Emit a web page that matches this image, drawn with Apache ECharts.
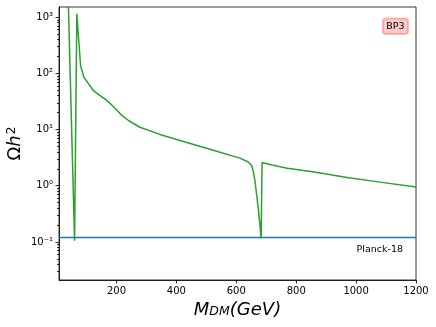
<!DOCTYPE html>
<html>
<head>
<meta charset="utf-8">
<script src="https://cdn.jsdelivr.net/npm/echarts@6/dist/echarts.min.js"></script>
<style>
html, body { margin: 0; padding: 0; background: #fff; }
#chart { width: 436px; height: 327px; }
</style>
</head>
<body>
<div id="chart"></div>
<script>
// relic density vs dark matter mass
var massX = [38, 60, 67.5, 80, 91, 122, 144, 160, 178, 195, 215, 240, 278, 345, 412, 512,
  612, 640, 651, 656, 662, 667.5, 673, 678.5, 683, 686,
  720, 770, 860, 970, 1080, 1200];
var relicY = [3000, 0.105, 1150, 138, 86, 50, 40.5, 35.5, 29.5, 24, 18.5, 14.5, 11, 8.2, 6.4, 4.45,
  3.1, 2.65, 2.3, 1.87, 1.24, 0.72, 0.416, 0.21, 0.115, 2.6,
  2.35, 2.05, 1.75, 1.4, 1.16, 0.95];

var planckX = [8, 1200];
var planckY = [0.12, 0.12];

var xTicks = [200, 400, 600, 800, 1000, 1200];
var yMajor = [0.1, 1, 10, 100, 1000];
var yMinor = [0.03, 0.04, 0.05, 0.06, 0.07, 0.08, 0.09,
  0.2, 0.3, 0.4, 0.5, 0.6, 0.7, 0.8, 0.9,
  2, 3, 4, 5, 6, 7, 8, 9,
  20, 30, 40, 50, 60, 70, 80, 90,
  200, 300, 400, 500, 600, 700, 800, 900];

var xMin = 8, xMax = 1200;
var yMin = 0.021, yMax = 1520;

var font = 'DejaVu Sans';
var supMap = { '-': '\u207b', '0': '\u2070', '1': '\u00b9', '2': '\u00b2', '3': '\u00b3' };
function sup(n) {
  return String(n).split('').map(function (c) { return supMap[c] || c; }).join('');
}

var chart = echarts.init(document.getElementById('chart'));

var pairs = function (xs, ys) {
  return xs.map(function (x, i) { return [x, ys[i]]; });
};

var overlayAxis = function (vals, len, showLabel) {
  return {
    type: 'value',
    position: 'left',
    offset: 0,
    min: Math.log10(yMin),
    max: Math.log10(yMax),
    axisLine: { show: false, onZero: false },
    splitLine: { show: false },
    axisTick: {
      show: true,
      length: len,
      customValues: vals.map(Math.log10),
      lineStyle: { color: '#000', width: 0.8 }
    },
    axisLabel: {
      show: showLabel,
      customValues: vals.map(Math.log10),
      margin: 6,
      fontSize: 10,
      fontFamily: font,
      color: '#000',
      formatter: function (v) { return '10' + sup(Math.round(v)); }
    }
  };
};

var option = {
  animation: false,
  textStyle: { fontFamily: font },
  grid: {
    left: 59, right: 20, top: 7, bottom: 47,
    outerBoundsMode: 'none',
    containLabel: false,
    show: true,
    borderColor: '#000',
    borderWidth: 0.8,
    backgroundColor: 'transparent'
  },
  xAxis: {
    type: 'value',
    min: xMin,
    max: xMax,
    name: '{i|M}{s|DM}{i|(GeV)}',
    nameLocation: 'middle',
    nameGap: 18,
    nameTextStyle: {
      rich: {
        i: { fontSize: 18, fontStyle: 'italic', fontFamily: font, color: '#000', padding: [0, 0, 4, 0] },
        s: { fontSize: 12.5, fontStyle: 'italic', fontFamily: font, color: '#000' }
      }
    },
    axisLine: { onZero: false, lineStyle: { color: '#000', width: 0.8 } },
    axisTick: { length: 3.5, customValues: xTicks, lineStyle: { color: '#000', width: 0.8 } },
    axisLabel: {
      customValues: xTicks, margin: 6, fontSize: 10, fontFamily: font, color: '#000',
      formatter: function (v) { return String(v); }
    },
    splitLine: { show: false }
  },
  yAxis: [
    {
      type: 'log',
      min: yMin,
      max: yMax,
      position: 'left',
      name: '{o|\u03a9}{h|h}{p|2}',
      nameLocation: 'middle',
      nameRotate: 90,
      nameGap: 33,
      nameTextStyle: {
        rich: {
          o: { fontSize: 18, fontFamily: font, color: '#000' },
          h: { fontSize: 18, fontStyle: 'italic', fontFamily: font, color: '#000' },
          p: { fontSize: 12.5, fontFamily: font, color: '#000', padding: [0, 0, 8, 1] }
        }
      },
      axisLine: { show: true, onZero: false, lineStyle: { color: '#000', width: 0.8 } },
      axisTick: { show: false },
      axisLabel: { show: false },
      splitLine: { show: false }
    },
    overlayAxis(yMajor, 3.5, true),
    overlayAxis(yMinor, 2, false)
  ],
  graphic: [
    {
      type: 'text',
      x: 395.5,
      y: 26.3,
      style: {
        text: 'BP3',
        fontSize: 9.5,
        fontFamily: font,
        fill: '#000',
        align: 'center',
        verticalAlign: 'middle',
        backgroundColor: 'rgba(255,0,0,0.2)',
        borderColor: 'rgba(255,0,0,0.25)',
        borderWidth: 1,
        borderRadius: 3,
        padding: [3, 3.5, 2.5, 3.5]
      }
    },
    {
      type: 'text',
      x: 403,
      y: 250,
      style: {
        text: 'Planck-18',
        fontSize: 9.5,
        fontFamily: font,
        fill: '#000',
        align: 'right',
        verticalAlign: 'middle'
      }
    }
  ],
  series: [
    {
      name: 'BP3',
      type: 'line',
      yAxisIndex: 0,
      data: pairs(massX, relicY),
      showSymbol: false,
      lineStyle: { color: '#2ca02c', width: 1.5 },
      itemStyle: { color: '#2ca02c' }
    },
    {
      name: 'Planck-18',
      type: 'line',
      yAxisIndex: 0,
      data: pairs(planckX, planckY),
      showSymbol: false,
      lineStyle: { color: '#1f77b4', width: 1.5 },
      itemStyle: { color: '#1f77b4' }
    }
  ]
};

chart.setOption(option);
</script>
</body>
</html>
